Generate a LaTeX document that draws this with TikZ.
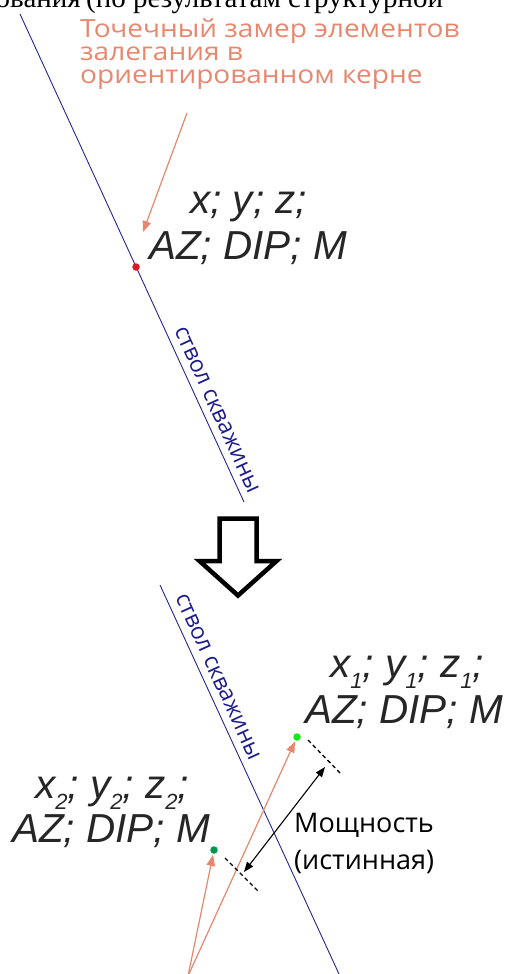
\documentclass[tikz,border=0pt]{standalone}
\usepackage{fontspec}
\setmainfont{Open Sans}
\newfontfamily\widesans[FakeStretch=1.12]{Open Sans}
\newfontfamily\coordfont{Liberation Sans}
\newfontfamily\serifcut{Liberation Serif}
\usetikzlibrary{arrows.meta}

\definecolor{salmon}{RGB}{232,134,110}
\definecolor{wellblue}{RGB}{36,36,150}
\definecolor{welltextblue}{RGB}{28,28,140}
\definecolor{inkgray}{RGB}{38,38,38}
\definecolor{pointred}{RGB}{222,24,40}
\definecolor{brightgreen}{RGB}{20,235,20}
\definecolor{darkgreen}{RGB}{0,150,80}

% subscript index for the coordinate labels
\newcommand{\idx}[1]{\raisebox{-0.28em}{\fontsize{22}{22}\selectfont #1}}

\tikzset{
  well/.style={draw=wellblue, line width=0.9pt},
  welltext/.style={text=welltextblue, font=\fontsize{23}{24}\selectfont, inner sep=0pt},
  pointer/.style={draw=salmon, line width=1.2pt, -{Triangle[length=11pt,width=8.5pt]}},
  dimarrow/.style={draw=black, line width=1.1pt, {Triangle[length=10pt,width=7.5pt]}-{Triangle[length=10pt,width=7.5pt]}},
  dimline/.style={draw=black, line width=1.3pt, dash pattern=on 4pt off 3pt},
  dot/.style={circle, inner sep=0pt, minimum size=7.5pt},
  coordlabel/.style={text=inkgray, inner sep=0pt, font=\coordfont\itshape\fontsize{40.5}{44}\selectfont},
  plainlabel/.style={inner sep=0pt, align=left},
}

\begin{document}
\begin{tikzpicture}[x=1pt,y=-1pt]
\useasboundingbox (0,0) rectangle (504,974);
\clip (0,0) rectangle (504,974);

% line of the page text above, cut by the frame
\node[anchor=base east, inner sep=0pt, font=\serifcut\fontsize{29}{30}\selectfont] (cutL) at (81,8) {бования};
\node[anchor=base west, inner sep=0pt, font=\serifcut\fontsize{29}{30}\selectfont] (cutR) at (86,8) {(по результатам структурной};

% ---------------- upper part: single measurement in the core ----------------
\coordinate (w1a) at (20,14);
\coordinate (w1b) at (244,502);
\draw[well] (w1a) -- (w1b);
\node[welltext, rotate=-65.5] (wt1) at (217,410) {ствол скважины};

\node[dot, fill=pointred] (p0) at (136,267) {};

% multi-line label: its base anchor sits on the last line
\node[plainlabel, anchor=base west, text=salmon, font=\widesans\fontsize{25}{23.5}\selectfont] (note) at (80,84)
  {Точечный замер элементов\\залегания в\\ориентированном керне};
\coordinate (noteTail) at (187,113);
\coordinate (noteHead) at (143,232);
\draw[pointer] (noteTail) -- (noteHead);

\node[coordlabel, anchor=base west] (c0a) at (190,213) {x; y; z;};
\node[coordlabel, anchor=base west] (c0b) at (149,259) {AZ; DIP; M};

% ---------------- transition arrow ----------------
\draw[line width=4.5pt, miter limit=10, line join=miter]
  (219.5,518.5) -- (256.5,518.5) -- (256.5,561) -- (276.5,561) -- (238,595.5)
  -- (199.5,561) -- (219.5,561) -- cycle;

% ---------------- lower part: two contacts and true thickness ----------------
\coordinate (w2a) at (160,585);
\coordinate (w2b) at (339,974);
\draw[well] (w2a) -- (w2b);
\node[welltext, rotate=-65.5] (wt2) at (218,677) {ствол скважины};

\node[dot, fill=brightgreen] (p1) at (297,737) {};
\node[dot, fill=darkgreen] (p2) at (214,850) {};

\coordinate (src) at (188,976);
\draw[pointer, shorten >=1pt] (src) -- (p1);
\draw[pointer, shorten >=1pt] (src) -- (p2);

\coordinate (d1a) at (308,740);
\coordinate (d1b) at (342,775);
\coordinate (d2a) at (225,858);
\coordinate (d2b) at (259,892);
\draw[dimline] (d1a) -- (d1b);
\draw[dimline] (d2a) -- (d2b);

\coordinate (m1) at (325,767);
\coordinate (m2) at (244,872);
\draw[dimarrow] (m2) -- (m1);

\node[plainlabel, anchor=base west, font=\fontsize{27}{37}\selectfont] (thick) at (294,869)
  {Мощность\\(истинная)};

\node[coordlabel, anchor=base west] (c1a) at (330,677) {x\idx{1}; y\idx{1}; z\idx{1};};
\node[coordlabel, anchor=base west] (c1b) at (305,723) {AZ; DIP; M};

\node[coordlabel, anchor=base west] (c2a) at (35,798) {x\idx{2}; y\idx{2}; z\idx{2};};
\node[coordlabel, anchor=base west] (c2b) at (12,842) {AZ; DIP; M};
\end{tikzpicture}
\end{document}
